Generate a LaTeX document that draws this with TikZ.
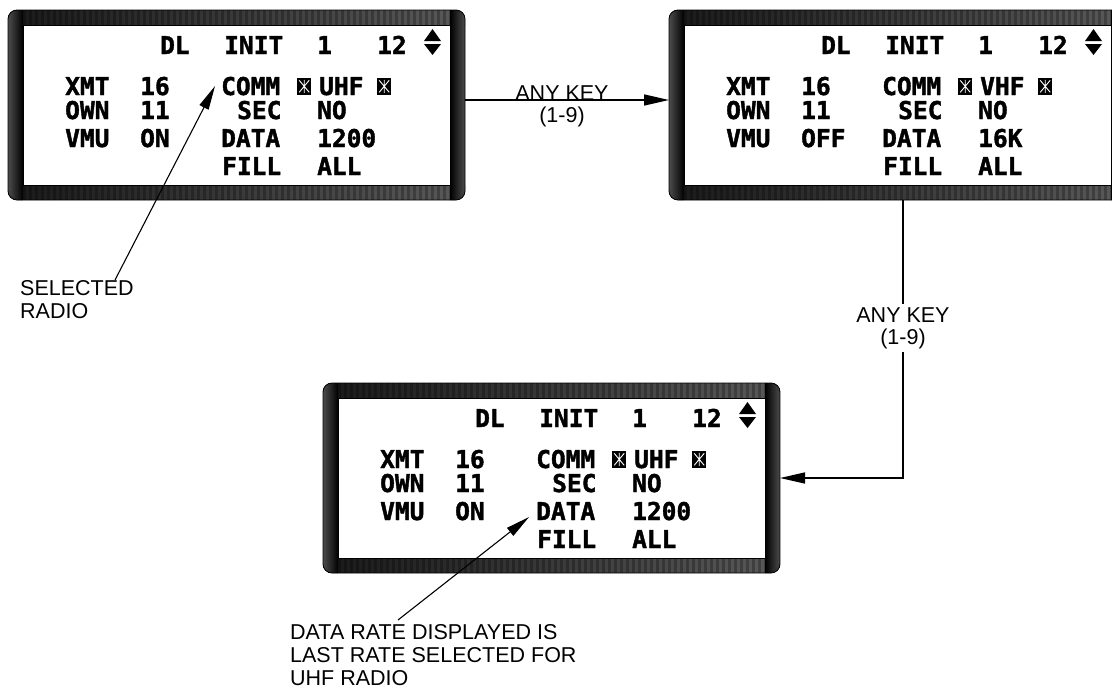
\documentclass[tikz,border=0pt]{standalone}
\usepackage{fontspec}
\setmainfont{Liberation Sans}
\newfontfamily\lcdfont[BoldFeatures={FakeBold=1.6}]{DejaVu Sans Mono}
\usetikzlibrary{arrows.meta}

\begin{document}
\begin{tikzpicture}[
    x=1pt, y=-1pt,
    lcd/.style={font=\lcdfont\bfseries\fontsize{24.5}{25}\selectfont, inner sep=0, anchor=base west},
    starbox/.style={fill=black, minimum width=14pt, minimum height=17pt, inner sep=0, anchor=south west,
        path picture={\draw[white, line width=0.9pt]
            ([yshift=-2pt]path picture bounding box.north) -- ([yshift=2pt]path picture bounding box.south)
            ([shift={(2pt,-2.5pt)}]path picture bounding box.north west) -- ([shift={(-2pt,2.5pt)}]path picture bounding box.south east)
            ([shift={(-2pt,-2.5pt)}]path picture bounding box.north east) -- ([shift={(2pt,2.5pt)}]path picture bounding box.south west);}},
    bezel/.style={draw=black, line width=0.8pt, rounded corners=9pt, minimum width=457pt, minimum height=190pt, inner sep=0, outer sep=0},
    remark/.style={font=\fontsize{21.5}{23}\selectfont, align=left, inner sep=0, anchor=north west},
    keylabel/.style={font=\fontsize{21.5}{22}\selectfont, align=center, inner xsep=1pt, inner ysep=3pt},
    flow/.style={-{Triangle[length=25pt,width=11pt]}, line width=1.5pt},
    lead/.style={-{Triangle[length=24pt,width=10pt]}, line width=1.1pt},
    pics/display/.style n args={3}{code={
        \begin{scope}
            \clip[rounded corners=9pt] (0,0) rectangle (457,190);
            \fill[black!85] (0,0) rectangle (457,190);
            \shade[left color=black!90, middle color=black!5, right color=black!65] (0,0) rectangle (457,15);
            \shade[left color=black!90, middle color=black!5, right color=black!65] (0,175) rectangle (457,190);
            \foreach \bx in {15,21,...,441} {
                \fill[black, opacity=0.25] (\bx,0) rectangle ++(2.5,15);
                \fill[black, opacity=0.25] (\bx,175) rectangle ++(2.5,15);
            }
            \shade[left color=black!70, middle color=black!35, right color=black] (0,0) rectangle (15,190);
            \shade[left color=black, middle color=black!35, right color=black!70] (442,0) rectangle (457,190);
        \end{scope}
        \draw[black, line width=1pt, fill=white] (15,15) rectangle (442,175);
        \node[bezel] (-frame) at (228.5,95) {};
        \fill (416,31) -- (433,31) -- (424.5,19) -- cycle;
        \fill (416,34) -- (433,34) -- (424.5,45) -- cycle;
        \node[lcd] (-dl) at (152,44) {DL};
        \node[lcd] (-init) at (216,44) {INIT};
        \node[lcd] (-page) at (309,44) {1};
        \node[lcd] (-pages) at (369,44) {12};
        \node[lcd] (-xmt) at (57,85) {XMT};
        \node[lcd] (-xmtnum) at (132,85) {16};
        \node[lcd] (-own) at (57,109) {OWN};
        \node[lcd] (-ownnum) at (132,109) {11};
        \node[lcd] (-vmu) at (57,137) {VMU};
        \node[lcd] (-vmuset) at (132,137) {#2};
        \node[lcd] (-comm) at (213,85) {COMM};
        \node[starbox] (-marka) at (289,85) {};
        \node[lcd] (-radio) at (311,85) {#1};
        \node[starbox] (-markb) at (369,85) {};
        \node[lcd] (-sec) at (229,109) {SEC};
        \node[lcd] (-secset) at (309,109) {NO};
        \node[lcd] (-data) at (213,137) {DATA};
        \node[lcd] (-rate) at (309,137) {#3};
        \node[lcd] (-fill) at (214,165) {FILL};
        \node[lcd] (-fillset) at (309,165) {ALL};
    }}
]
\useasboundingbox (0,0) rectangle (1112,694);
\clip (0,0) rectangle (1112,694);

\pic (first) at (8,10) {display={UHF}{ON}{1200}};
\pic (second) at (669,10) {display={VHF}{OFF}{16K}};
\pic (third) at (323,383) {display={UHF}{ON}{1200}};

\node[remark] (selected) at (20,280) {SELECTED\\RADIO};
\node[remark] (lastrate) at (290,624) {DATA RATE DISPLAYED IS\\LAST RATE SELECTED FOR\\UHF RADIO};

\draw[flow] ([yshift=5pt]first-frame.east) -- ([yshift=5pt]second-frame.west)
    node[midway, keylabel, xshift=-5pt, yshift=-6pt] (anykey) {ANY KEY\\(1-9)};
\draw[flow] ([xshift=5.5pt]second-frame.south) |- (third-frame.east)
    node[pos=0.23, keylabel, fill=white] (anykeyb) {ANY KEY\\(1-9)};

\draw[lead] ([xshift=95pt]selected.north west) -- ([xshift=-6pt]first-comm.west);
\draw[lead] ([shift={(108pt,4pt)}]lastrate.north west) -- ([shift={(-7pt,-6pt)}]third-data.west);
\end{tikzpicture}
\end{document}
